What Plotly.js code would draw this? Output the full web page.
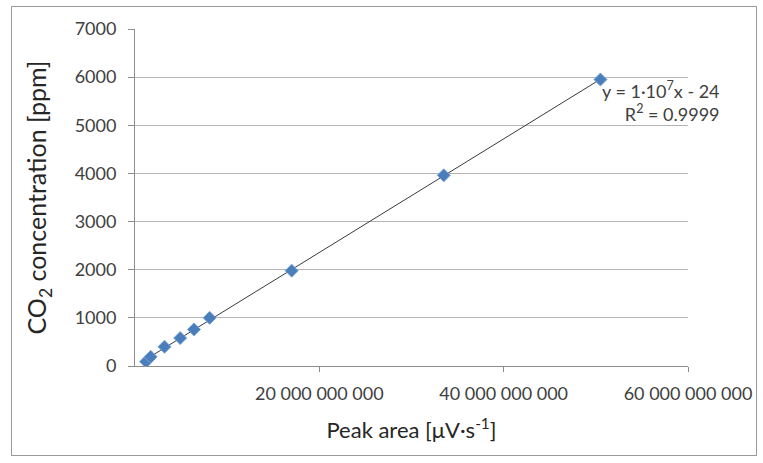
<!DOCTYPE html>
<html>
<head>
<meta charset="utf-8">
<script src="https://cdn.plot.ly/plotly-3.0.1.min.js"></script>
<style>
  html, body { margin: 0; padding: 0; background: #fff; }
  #wrap { position: relative; width: 763px; height: 463px; }
  #chart { position: absolute; left: 0; top: 0; width: 763px; height: 463px; }
  #frame { position: absolute; left: 11px; top: 6px; width: 744px; height: 448px; border: 1px solid #9a9a9a; pointer-events: none; }
</style>
</head>
<body>
<div id="wrap">
  <div id="chart"></div>
  <div id="frame"></div>
</div>
<script>
// Data
const peakArea = [1.2e9, 1.7e9, 3.2e9, 4.9e9, 6.4e9, 8.1e9, 17.0e9, 33.5e9, 50.5e9];
const co2ppm   = [90, 190, 400, 580, 760, 1000, 1980, 3960, 5950];
const xTickVals = [20e9, 40e9, 60e9];
const xTickText = ['20 000 000 000', '40 000 000 000', '60 000 000 000'];
const eqLabel = 'y = 1·10<sup>7</sup>x - 24<br>R<sup>2</sup> = 0.9999';

// Least-squares linear trendline computed from the data
const n = peakArea.length;
const mx = peakArea.reduce((a, b) => a + b, 0) / n;
const my = co2ppm.reduce((a, b) => a + b, 0) / n;
let sxy = 0, sxx = 0;
for (let i = 0; i < n; i++) { sxy += (peakArea[i] - mx) * (co2ppm[i] - my); sxx += (peakArea[i] - mx) ** 2; }
const slope = sxy / sxx;
const intercept = my - slope * mx;
const xMin = Math.min(...peakArea), xMax = Math.max(...peakArea);
const trendX = [xMin, xMax];
const trendY = trendX.map(v => slope * v + intercept);

const font = 'Lato, "Open Sans", sans-serif';
const textColor = '#404040';
const titleColor = '#262626';

const traces = [
  {
    x: trendX, y: trendY, type: 'scatter', mode: 'lines',
    line: { color: '#3a3a3a', width: 1 }, hoverinfo: 'skip', showlegend: false
  },
  {
    x: peakArea, y: co2ppm, type: 'scatter', mode: 'markers',
    marker: { symbol: 'diamond', size: 10, color: '#4a7ebb', line: { color: '#79a3d8', width: 1 } },
    showlegend: false
  }
];

const layout = {
  width: 763, height: 463,
  margin: { l: 135, r: 75, t: 29, b: 97 },
  paper_bgcolor: '#ffffff', plot_bgcolor: '#ffffff',
  font: { family: font, color: textColor, size: 18 },
  showlegend: false,
  xaxis: {
    range: [0, 60e9],
    tickmode: 'array', tickvals: xTickVals, ticktext: xTickText,
    showgrid: false, zeroline: false,
    showline: true, linecolor: '#8c8c8c', linewidth: 1,
    ticks: 'outside', ticklen: 5, tickcolor: '#8c8c8c',
    ticklabelstandoff: 6,
    tickfont: { family: font, size: 18, color: textColor },
    title: { text: 'Peak area [μV·s<sup>-1</sup>]', font: { family: font, size: 22, color: titleColor }, standoff: 20 }
  },
  yaxis: {
    range: [0, 7000], dtick: 1000, tick0: 0,
    showgrid: true, gridcolor: '#b4b4b4', gridwidth: 1, zeroline: false,
    showline: true, linecolor: '#8c8c8c', linewidth: 1,
    ticks: 'outside', ticklen: 6, tickcolor: '#8c8c8c',
    ticklabelstandoff: 8,
    tickfont: { family: font, size: 18, color: textColor },
    title: { text: 'CO<sub>2</sub> concentration [ppm]', font: { family: font, size: 25, color: titleColor }, standoff: 20 }
  },
  annotations: [
    {
      xref: 'paper', yref: 'paper', x: 1.0615, y: 0.785,
      xanchor: 'right', yanchor: 'middle', align: 'right', showarrow: false,
      text: eqLabel, font: { family: font, size: 18, color: textColor }
    }
  ]
};

Plotly.newPlot('chart', traces, layout, { displayModeBar: false, staticPlot: true });
</script>
</body>
</html>
